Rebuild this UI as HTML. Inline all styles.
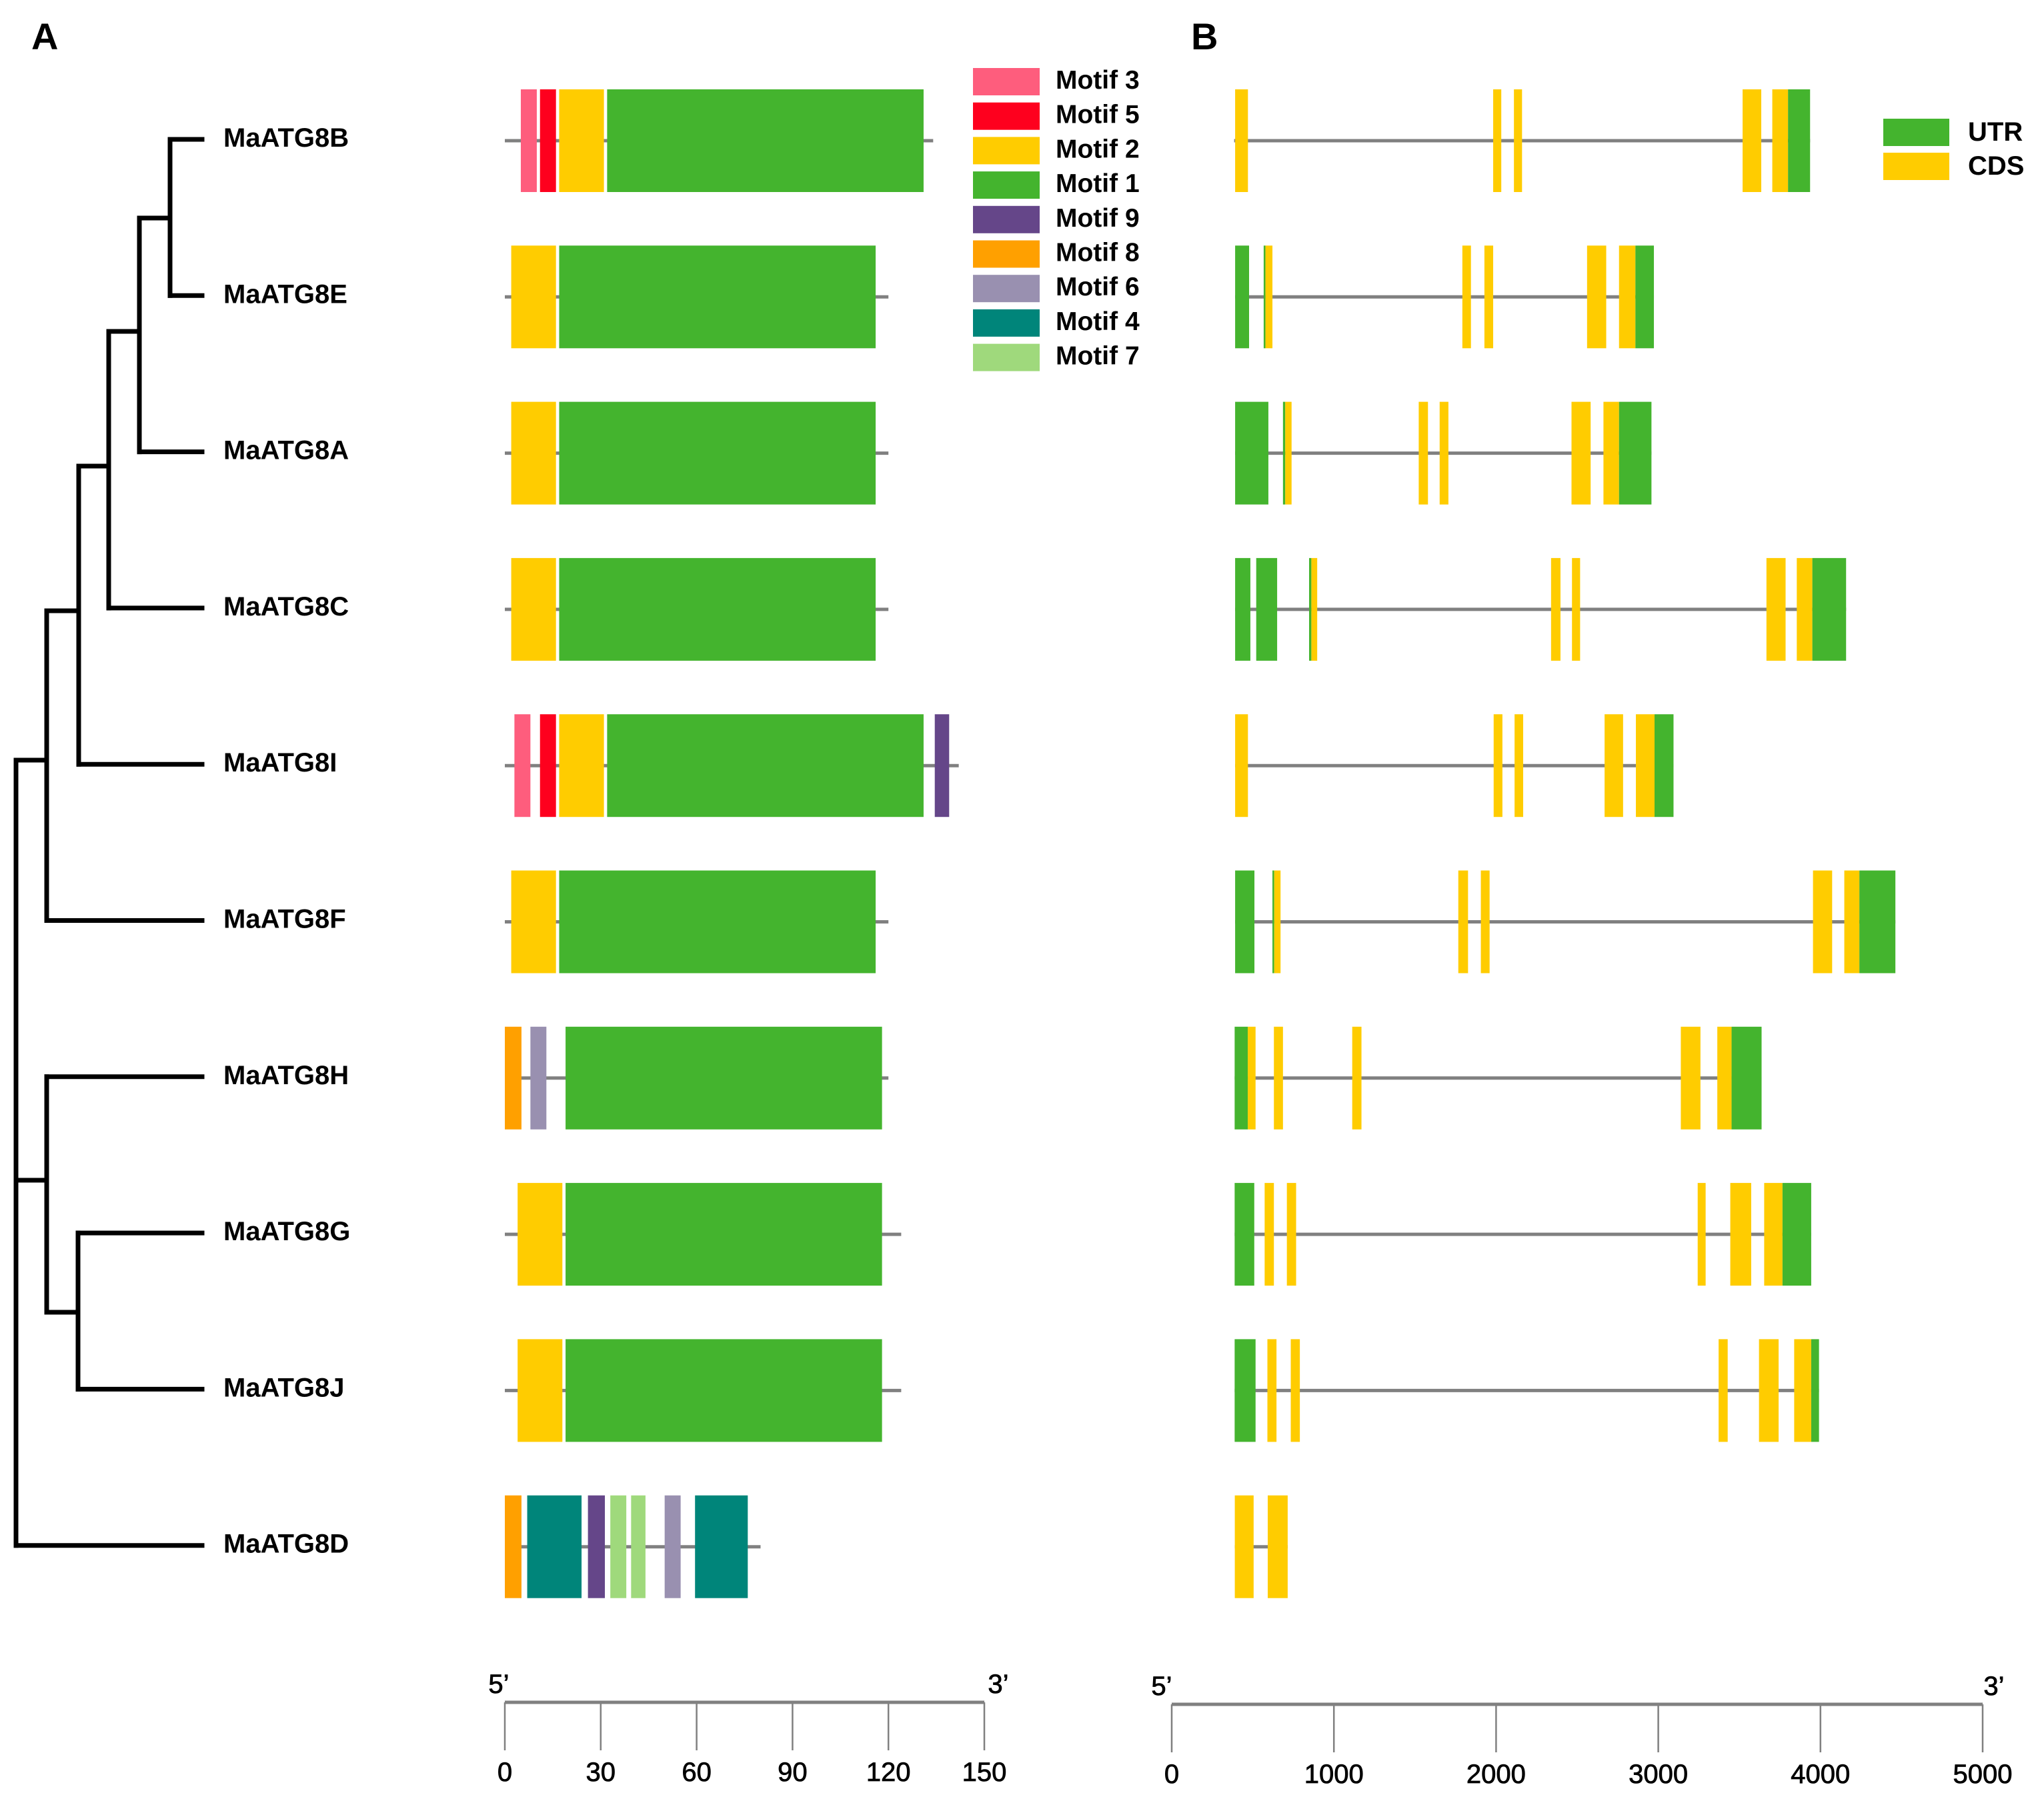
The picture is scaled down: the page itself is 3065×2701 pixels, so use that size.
<!DOCTYPE html>
<html><head><meta charset="utf-8">
<style>
html,body{margin:0;padding:0;background:#fff;}
svg{display:block;font-family:"Liberation Sans",Arial,sans-serif;}
</style></head>
<body>
<svg id="fig" width="3065" height="2701" viewBox="0 0 3065 2701" xmlns="http://www.w3.org/2000/svg">
<rect width="3065" height="2701" fill="#fff"/>
<text x="47" y="74" font-size="56" font-weight="bold">A</text>
<text x="1786" y="74" font-size="56" font-weight="bold">B</text>
<g id="tree"></g>
<g id="labels"></g>
<g id="motifs"></g>
<g id="genes"></g>
<g id="legA"></g>
<g id="legB"></g>
<g id="axA"></g>
<g id="axB"></g>
</svg>
<script>
const genes = ["MaATG8B","MaATG8E","MaATG8A","MaATG8C","MaATG8I","MaATG8F","MaATG8H","MaATG8G","MaATG8J","MaATG8D"];
// protein lengths (aa)
const protLen = [134,120,120,120,142,120,120,124,124,80];
// motifs: [motif, start, end] in aa
const motifData = [
 [[3,5,10],[5,11,16],[2,17,31],[1,32,131]],
 [[2,2,16],[1,17,116]],
 [[2,2,16],[1,17,116]],
 [[2,2,16],[1,17,116]],
 [[3,3,8],[5,11,16],[2,17,31],[1,32,131],[9,134.5,139]],
 [[2,2,16],[1,17,116]],
 [[8,0,5.2],[6,8,13],[1,19,118]],
 [[2,4,18],[1,19,118]],
 [[2,4,18],[1,19,118]],
 [[8,0,5.2],[4,7,24],[9,26,31.3],[7,33,38],[7,39.5,44],[6,50,55],[4,59.5,76]]
];
const legendMotifs = [3,5,2,1,9,8,6,4,7];
const motifColors = {3:"#fe5d7d",5:"#fe001e",2:"#ffcc00",1:"#44b42e",9:"#654689",8:"#ffa000",6:"#9990b0",4:"#00857a",7:"#9fd97c"};
// gene structures: [type, start, end] in bp (U=UTR, C=CDS)
const geneSpan = [[385,3936],[391,2973],[391,2958],[391,4158],[391,3094],[391,4462],[388,3637],[388,3943],[388,3991],[389,715]];
const exons = [
 [["C",391,470],["C",1982,2032],["C",2110,2160],["C",3520,3635],["C",3703,3800],["U",3800,3936]],
 [["U",391,477],["U",567,578],["C",578,621],["C",1792,1845],["C",1928,1982],["C",2561,2679],["C",2758,2859],["U",2859,2973]],
 [["U",391,596],["U",686,700],["C",700,739],["C",1523,1580],["C",1652,1706],["C",2465,2583],["C",2662,2758],["U",2758,2958]],
 [["U",391,485],["U",521,650],["U",847,861],["C",861,897],["C",2339,2397],["C",2468,2518],["C",3667,3785],["C",3854,3950],["U",3950,4158]],
 [["C",391,470],["C",1985,2039],["C",2114,2167],["C",2669,2783],["C",2862,2977],["U",2977,3094]],
 [["U",391,510],["U",621,632],["C",632,671],["C",1767,1827],["C",1906,1960],["C",3954,4072],["C",4147,4240],["U",4240,4462]],
 [["U",388,469],["C",469,517],["C",630,686],["C",1113,1170],["C",3139,3260],["C",3364,3452],["U",3452,3637]],
 [["U",388,509],["C",573,630],["C",710,767],["C",3243,3292],["C",3444,3573],["C",3653,3766],["U",3766,3943]],
 [["U",388,517],["C",590,646],["C",734,790],["C",3372,3428],["C",3621,3742],["C",3838,3943],["U",3943,3991]],
 [["C",389,505],["C",592,715]]
];
const ticksA = [0,30,60,90,120,150];
const ticksB = [0,1000,2000,3000,4000,5000];

const NS="http://www.w3.org/2000/svg";
function mk(tag,attrs,parent){const e=document.createElementNS(NS,tag);for(const k in attrs)e.setAttribute(k,attrs[k]);parent.appendChild(e);return e;}
const xA = v => 757 + v*(1476-757)/150;
const xB = v => 1757 + v*(2973-1757)/5000;
const rowY = i => 211 + i*234.3;
const H = 154;

// motifs
const gM=document.getElementById('motifs');
genes.forEach((g,i)=>{
  const cy=rowY(i);
  const ln=mk('line',{x1:xA(0),x2:xA(protLen[i]),y1:cy,y2:cy,stroke:"#808080","stroke-width":5},gM);
  
  
  motifData[i].forEach(m=>{
    const r=mk('rect',{x:xA(m[1]),y:cy-H/2,width:xA(m[2])-xA(m[1]),height:H,fill:motifColors[m[0]]},gM);
    
    
  });
});
// genes
const gG=document.getElementById('genes');
genes.forEach((g,i)=>{
  const cy=rowY(i);
  const ln=mk('line',{x1:xB(geneSpan[i][0]),x2:xB(geneSpan[i][1]),y1:cy,y2:cy,stroke:"#808080","stroke-width":5},gG);
  
  
  exons[i].forEach(e=>{
    const r=mk('rect',{x:xB(e[1]),y:cy-H/2,width:xB(e[2])-xB(e[1]),height:H,fill:e[0]=="U"?"#44b42e":"#ffcc00"},gG);
    
    
  });
});
// labels
const gL=document.getElementById('labels');
genes.forEach((g,i)=>{
  const t=mk('text',{x:335,y:rowY(i)+9,"font-size":40,"font-weight":"bold"},gL);
  t.textContent=g;
  
  
});
// tree
const gT=document.getElementById('tree');
const leafY = i => rowY(i)-2;
const segs=[
 [255,leafY(0),303,leafY(0)],[255,leafY(1),303,leafY(1)],[255,leafY(0),255,leafY(1)],
 [209,327,255,327],[209,leafY(2),303,leafY(2)],[209,327,209,leafY(2)],
 [163,497,209,497],[163,leafY(3),303,leafY(3)],[163,497,163,leafY(3)],
 [118,699,163,699],[118,leafY(4),303,leafY(4)],[118,699,118,leafY(4)],
 [70,916,118,916],[70,leafY(5),303,leafY(5)],[70,916,70,leafY(5)],
 [117,leafY(7),303,leafY(7)],[117,leafY(8),303,leafY(8)],[117,leafY(7),117,leafY(8)],
 [70,leafY(6),303,leafY(6)],[70,1968,117,1968],[70,leafY(6),70,1968],
 [24,1140,70,1140],[24,1770,70,1770],[24,leafY(9),303,leafY(9)],[24,1140,24,leafY(9)]
];
segs.forEach(s=>{
  const l=mk('line',{x1:s[0],y1:s[1],x2:s[2],y2:s[3],stroke:"#000","stroke-width":7,"stroke-linecap":"square"},gT);
  
  
});
// legend A
const gLA=document.getElementById('legA');
legendMotifs.forEach((m,k)=>{
  const y=102+k*51.7;
  const r=mk('rect',{x:1459,y:y,width:100,height:41,fill:motifColors[m]},gLA);
  
  
  const t=mk('text',{x:1583,y:y+31,"font-size":39,"font-weight":"bold"},gLA);
  t.textContent='Motif '+m;
  
  
});
// legend B
const gLB=document.getElementById('legB');
[["UTR","#44b42e",178],["CDS","#ffcc00",229]].forEach(d=>{
  const r=mk('rect',{x:2824,y:d[2],width:99,height:41,fill:d[1]},gLB);
  
  
  const t=mk('text',{x:2951,y:d[2]+33,"font-size":40,"font-weight":"bold"},gLB);
  t.textContent=d[0];
  
  
});
// axes
function axis(gid,f,ticks,yLine,x5,x3){
  const g=document.getElementById(gid);
  const l=mk('line',{x1:f(ticks[0]),x2:f(ticks[ticks.length-1]),y1:yLine,y2:yLine,stroke:"#808080","stroke-width":5},g);
  
  
  ticks.forEach(v=>{
    const t=mk('line',{x1:f(v),x2:f(v),y1:yLine,y2:yLine+72,stroke:"#808080","stroke-width":2.5},g);
    
    
    const tx=mk('text',{x:f(v),y:yLine+118,"font-size":40,"text-anchor":"middle",stroke:"#000","stroke-width":0.8},g);
    tx.textContent=String(v);
    
    
  });
  const a=mk('text',{x:x5,y:yLine-14,"font-size":40,"text-anchor":"middle",stroke:"#000","stroke-width":0.8},g);
  a.textContent="5’";
  
  
  const b=mk('text',{x:x3,y:yLine-14,"font-size":40,"text-anchor":"middle",stroke:"#000","stroke-width":0.8},g);
  b.textContent="3’";
  
  
}
axis('axA',xA,ticksA,2553,748,1497);
axis('axB',xB,ticksB,2556,1742,2990);
</script>
</body></html>
